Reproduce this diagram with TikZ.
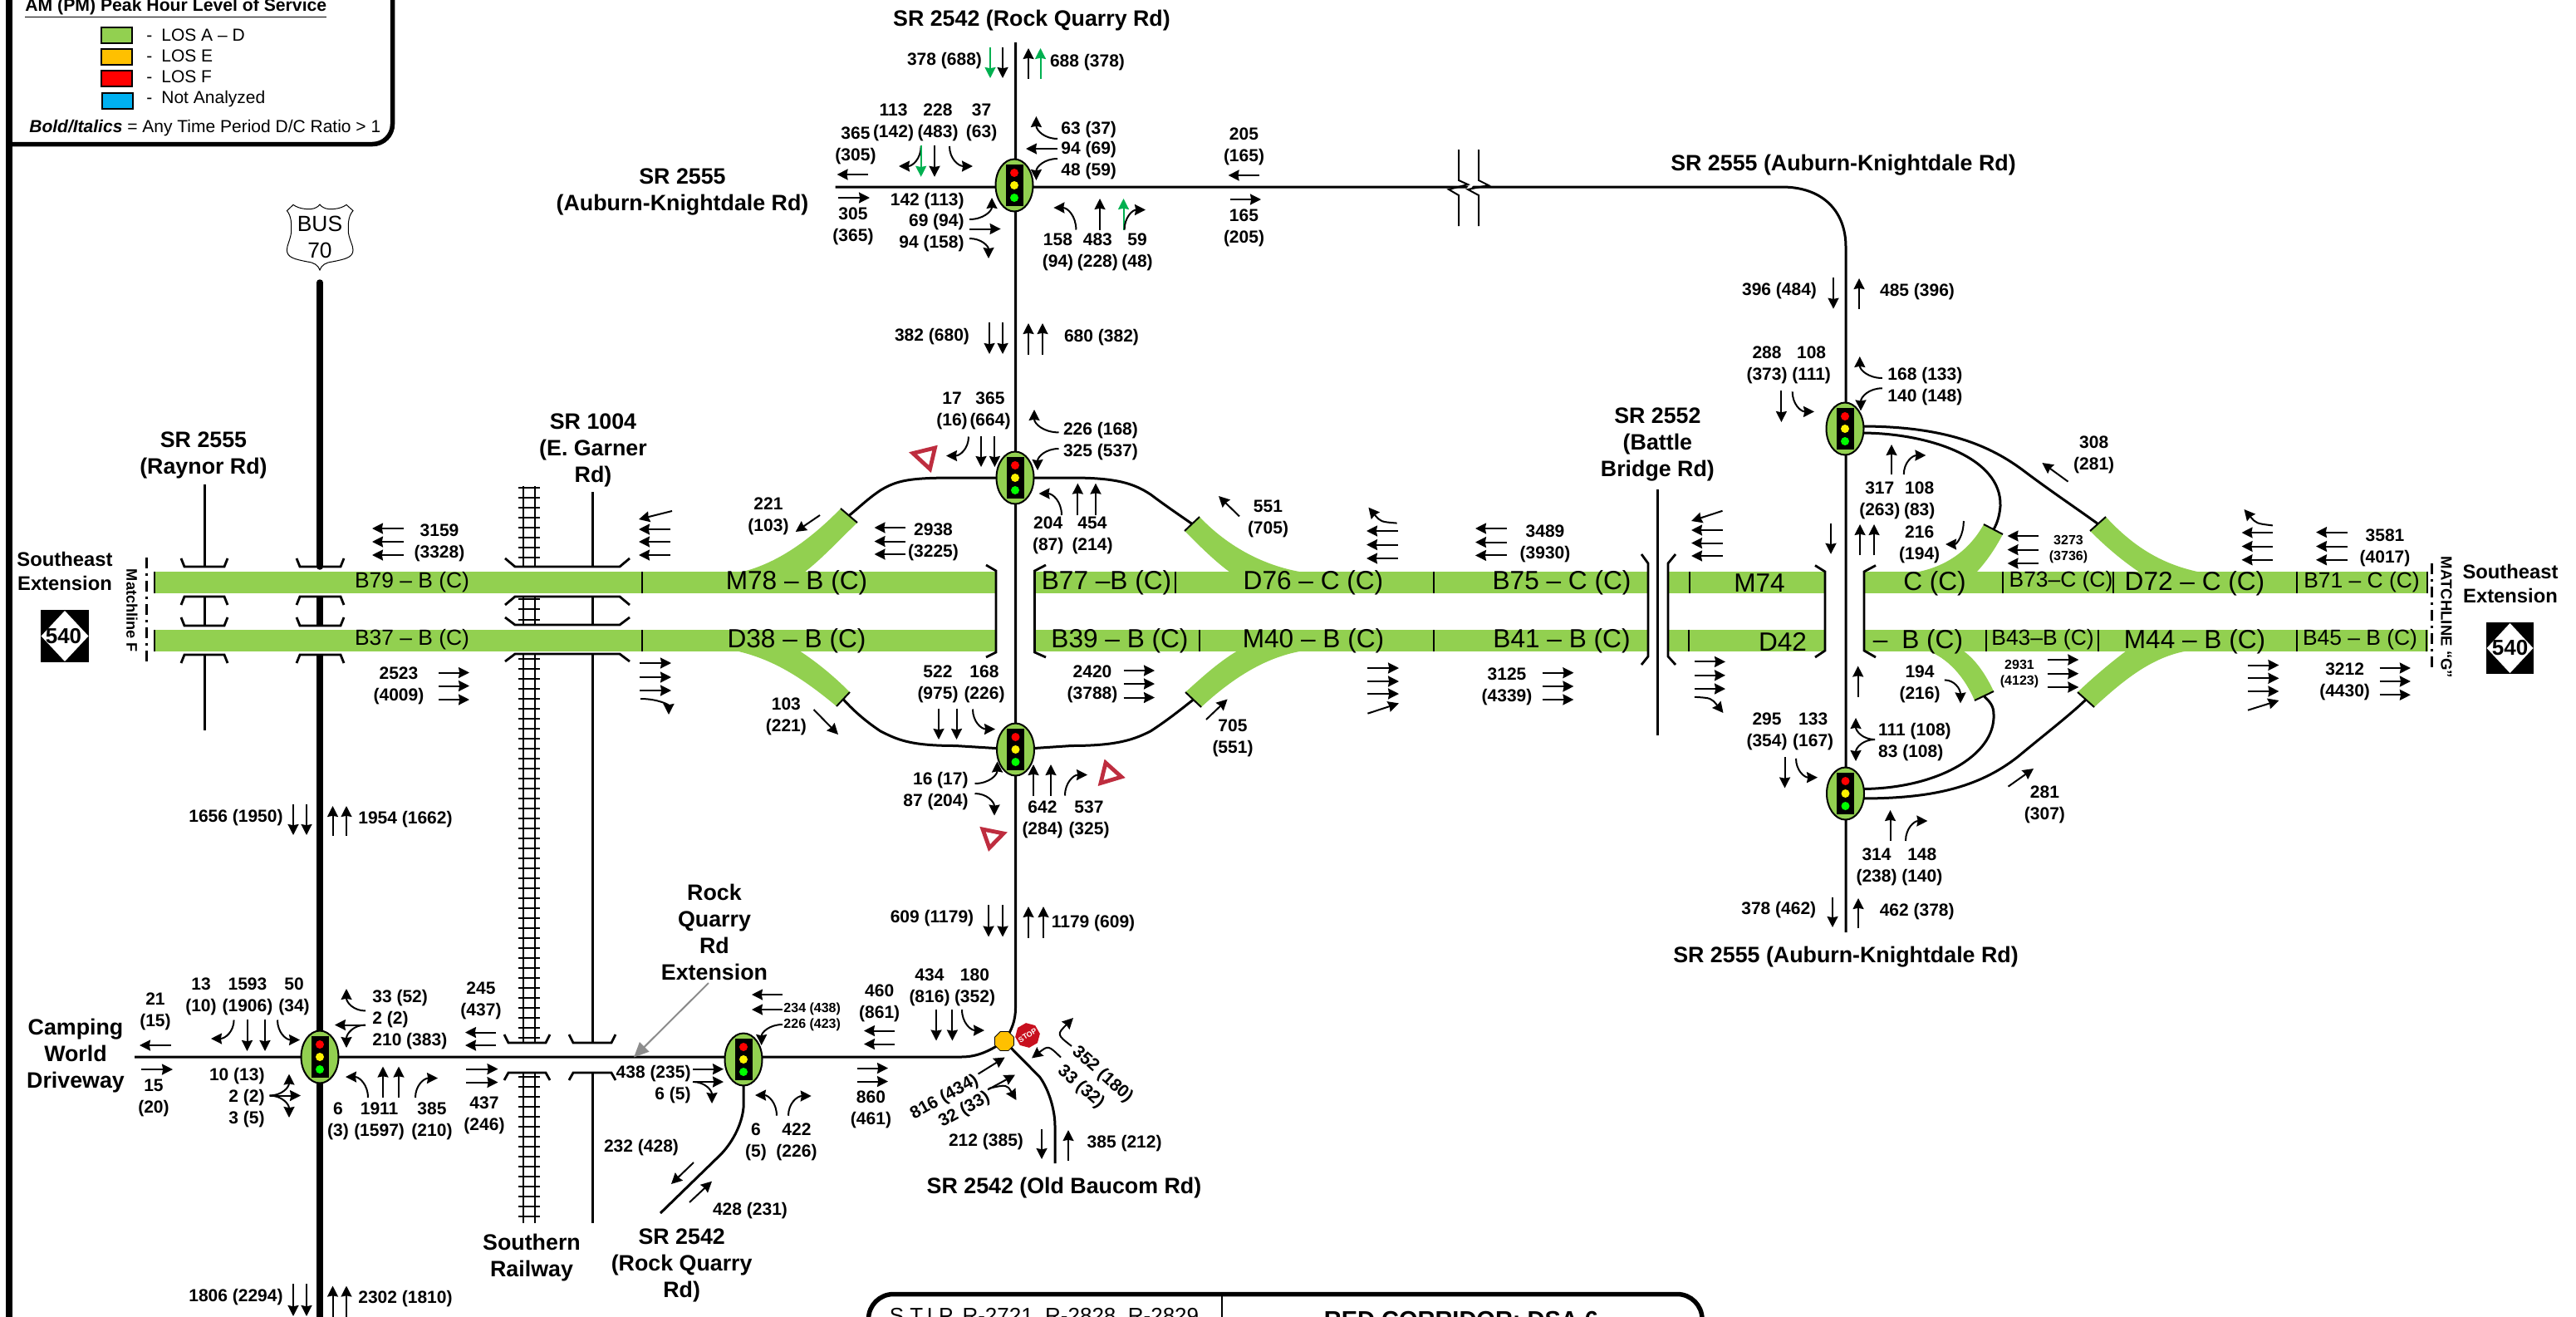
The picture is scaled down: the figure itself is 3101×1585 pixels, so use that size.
\documentclass[tikz,border=0pt]{standalone}
\usepackage{fontspec}
\setmainfont{Liberation Sans}
\usetikzlibrary{arrows.meta,shapes.geometric}
\definecolor{losg}{RGB}{146,208,80}
\definecolor{lose}{RGB}{255,192,0}
\definecolor{losb}{RGB}{0,176,240}
\definecolor{grarrow}{RGB}{0,176,80}
\definecolor{yieldred}{RGB}{190,45,63}
\definecolor{stopred}{RGB}{200,16,30}
\newcounter{lbc}
\tikzset{
  lab/.style={inner sep=0pt,align=center,yshift=-0.4pt,font=\fontsize{10.5}{13}\selectfont\bfseries},
  labs/.style={inner sep=0pt,align=center,yshift=-0.3pt,font=\fontsize{8}{9.5}\selectfont\bfseries},
  big/.style={inner sep=0pt,align=center,yshift=-0.8pt,font=\fontsize{13.4}{16}\selectfont\bfseries},
  bigs/.style={inner sep=0pt,align=center,yshift=-0.5pt,font=\fontsize{11.9}{14.5}\selectfont\bfseries},
  seg/.style={inner sep=0pt,font=\fontsize{13.2}{15}\selectfont},
  segb/.style={inner sep=0pt,font=\fontsize{15.8}{18}\selectfont},
  legt/.style={inner sep=0pt,anchor=west,font=\fontsize{10.5}{13}\selectfont},
  mv/.style={line width=1pt,-{Stealth[length=6.5pt,width=6.5pt,inset=0.6pt]}},
  mvg/.style={mv,color=grarrow},
  road/.style={line width=1.5pt},
  thick road/.style={line width=3.75pt},
  brk/.style={line width=1.4pt},
  rail/.style={line width=0.8pt},
  sigel/.style={ellipse,draw=black,fill=losg,line width=1pt,minimum width=22.5pt,minimum height=31.5pt,inner sep=0pt},
  sighead/.style={rectangle,fill=black,minimum width=10.5pt,minimum height=25pt,inner sep=0pt},
  lamp/.style={circle,inner sep=0pt,minimum size=5pt},
  tick/.style={line width=1pt},
  rampend/.style={line width=1pt},
  swatch/.style={draw=black,line width=0.8pt},
  yieldtri/.style={draw=yieldred,fill=white,line width=2.4pt,line join=miter},
  matchl/.style={line width=1.5pt,dash pattern=on 6.5pt off 3pt on 1.5pt off 3pt},
  frameln/.style={line width=2.75pt},
}
\newcommand\lb[3]{\stepcounter{lbc}\node[lab] (t\thelbc) at (#1,#2) {#3};}
\newcommand\lbl[3]{\stepcounter{lbc}\node[lab,anchor=west] (t\thelbc) at (#1,#2) {#3};}
\newcommand\lbe[3]{\stepcounter{lbc}\node[lab,anchor=east] (t\thelbc) at (#1,#2) {#3};}
\newcommand\lbs[3]{\stepcounter{lbc}\node[labs] (t\thelbc) at (#1,#2) {#3};}
\newcommand\lbr[4]{\stepcounter{lbc}\node[lab,rotate=#3] (t\thelbc) at (#1,#2) {#4};}
\newcommand\bg[3]{\stepcounter{lbc}\node[big] (t\thelbc) at (#1,#2) {#3};}
\newcommand\bgs[3]{\stepcounter{lbc}\node[bigs] (t\thelbc) at (#1,#2) {#3};}
\newcommand\sg[3]{\stepcounter{lbc}\node[seg] (t\thelbc) at (#1,#2) {#3};}
\newcommand\sgb[3]{\stepcounter{lbc}\node[segb] (t\thelbc) at (#1,#2) {#3};}
\newcommand\mv[4]{\draw[mv] (#1,#2) -- (#3,#4);}
\newcommand\mvh[3]{\foreach \q in {#3} {\draw[mv] (#1,\q) -- (#2,\q);}}
\newcommand\mvv[3]{\foreach \q in {#3} {\draw[mv] (\q,#1) -- (\q,#2);}}
\newcommand\vh[4]{\draw[mv] (#1,#2) .. controls (#1,{#2+0.62*(#4-#2)}) and ({#3-0.62*(#3-#1)},#4) .. (#3,#4);}
\newcommand\hv[4]{\draw[mv] (#1,#2) .. controls ({#1+0.62*(#3-#1)},#2) and (#3,{#4-0.62*(#4-#2)}) .. (#3,#4);}
\newcommand\sigl[3]{%
  \node[sigel] (#1) at (#2,#3) {};
  \node[sighead] (#1h) at (#2,#3) {};
  \node[lamp,fill=red] (#1r) at ([yshift=7.5pt]#1) {};
  \node[lamp,fill=yellow] (#1y) at (#1) {};
  \node[lamp,fill=green] (#1g) at ([yshift=-7.5pt]#1) {};
}
\newcommand\obar[5]{\draw[brk] (#1,#4) -- (#1+#5,#3) -- (#2-#5,#3) -- (#2,#4);}
\begin{document}
\begin{tikzpicture}[x=0.5pt,y=-0.5pt,line cap=butt]
\useasboundingbox (0,0) rectangle (3101,1585);
\clip (0,0) rectangle (3101,1585);

% frame
\draw[line width=3.75pt] (11,0) -- (11,1585);
\draw[frameln,rounded corners=12pt] (472.5,-5) -- (472.5,173.5) -- (14,173.5);
\draw[frameln,rounded corners=15pt] (1045.5,1610) -- (1045.5,1557.5) -- (2049,1557.5) -- (2049,1610);
\draw[line width=1.25pt] (1471,1557) -- (1471,1590);
\node[inner sep=0pt,font=\fontsize{13}{15}\selectfont,anchor=base] (stip) at (1257,1592) {S.T.I.P. R-2721, R-2828, R-2829};
\node[inner sep=0pt,font=\fontsize{14.5}{16}\selectfont\bfseries,anchor=base] (rc) at (1759,1598) {RED CORRIDOR: DSA 6};

% legend
\node[inner sep=0pt,anchor=west,font=\fontsize{10.6}{13}\selectfont\bfseries] (legtitle) at (30,10) {\underline{AM (PM) Peak Hour Level of Service}};
\draw[swatch,fill=losg] (122,33) rectangle (159,52);
\draw[swatch,fill=lose] (122,59) rectangle (159,78);
\draw[swatch,fill=red] (122,85) rectangle (159,104);
\draw[swatch,fill=losb] (123,112) rectangle (160,131);
\node[legt] (l1) at (176,42) {-\hspace{5.5pt}LOS A – D};
\node[legt] (l2) at (176,67) {-\hspace{5.5pt}LOS E};
\node[legt] (l3) at (176,92.5) {-\hspace{5.5pt}LOS F};
\node[legt] (l4) at (176,119) {-\hspace{5.5pt}Not Analyzed};
\node[legt] (l5) at (35,154) {\textbf{\textit{Bold/Italics}} = Any Time Period D/C Ratio > 1};

% bands
\foreach \ya/\yb in {688/714,758/784} {
  \fill[losg] (186,\ya) rectangle (1199,\yb);
  \fill[losg] (1246,\ya) rectangle (1984,\yb);
  \fill[losg] (2008,\ya) rectangle (2197,\yb);
  \fill[losg] (2244,\ya) rectangle (2923,\yb);
}
% ramps
\fill[losg] (1012,612) .. controls (970,655) and (930,680) .. (890,689) -- (968,689) .. controls (990,672) and (1010,650) .. (1032,629) -- cycle;
\fill[losg] (1007,850) .. controls (965,815) and (930,793) .. (885,783) -- (962,783) .. controls (985,798) and (1005,815) .. (1023,833) -- cycle;
\fill[losg] (1426,639) .. controls (1445,658) and (1462,675) .. (1481,689) -- (1570,689) .. controls (1525,682) and (1480,660) .. (1444,622) -- cycle;
\fill[losg] (1427,833) .. controls (1445,817) and (1465,798) .. (1490,783) -- (1570,783) .. controls (1525,790) and (1485,815) .. (1446,851) -- cycle;
\fill[losg] (2388,631) .. controls (2372,660) and (2345,682) .. (2305,689) -- (2379,689) .. controls (2392,675) and (2402,660) .. (2411,643) -- cycle;
\fill[losg] (2377,843) .. controls (2365,815) and (2345,792) .. (2320,783) -- (2363,783) .. controls (2380,795) and (2392,815) .. (2400,832) -- cycle;
\fill[losg] (2516,639) .. controls (2535,658) and (2555,675) .. (2576,689) -- (2650,689) .. controls (2605,680) and (2570,660) .. (2535,622) -- cycle;
\fill[losg] (2501,833) .. controls (2520,815) and (2540,798) .. (2560,783) -- (2635,783) .. controls (2590,790) and (2555,820) .. (2521,851) -- cycle;
% ramp ends
\draw[rampend] (1012,612) -- (1032,629);
\draw[rampend] (1007,850) -- (1023,833);
\draw[rampend] (1426,639) -- (1444,622);
\draw[rampend] (1427,833) -- (1446,851);
\draw[rampend] (2388,631) -- (2411,643);
\draw[rampend] (2377,843) -- (2400,832);
\draw[rampend] (2516,639) -- (2535,622);
\draw[rampend] (2501,833) -- (2521,851);
% band ticks
\foreach \x in {186,773,1415,1726,2034,2411,2544,2765,2922} {\draw[tick] (\x,688) -- (\x,714);}
\foreach \x in {186,773,1444,1726,2033,2391,2526,2765,2921} {\draw[tick] (\x,758) -- (\x,784);}

% band labels
\sg{496}{701}{B79 – B (C)}
\sg{496}{770}{B37 – B (C)}
\sgb{959}{701}{M78 – B (C)}
\sgb{959}{771}{D38 – B (C)}
\sgb{1332}{701}{B77 –B (C)}
\sgb{1348}{771}{B39 – B (C)}
\sgb{1581}{701}{D76 – C (C)}
\sgb{1581}{771}{M40 – B (C)}
\sgb{1880}{701}{B75 – C (C)}
\sgb{1880}{771}{B41 – B (C)}
\sgb{2118}{702}{M74}
\sgb{2146}{772}{D42}
\sgb{2329}{702}{C (C)}
\sgb{2309}{772}{–\hspace{4pt} B (C)}
\sg{2481}{700}{B73–C (C)}
\sg{2459}{770}{B43–B (C)}
\sgb{2642}{702}{D72 – C (C)}
\sgb{2642}{772}{M44 – B (C)}
\sg{2843}{701}{B71 – C (C)}
\sg{2841}{770}{B45 – B (C)}

% Raynor
\draw[road] (246,583) -- (246,682);
\draw[road] (246,718) -- (246,753);
\draw[road] (246,788) -- (246,879);
\obar{218}{274}{682}{672}{4}
\obar{218}{274}{718}{728}{4}
\obar{218}{274}{753}{743}{4}
\obar{218}{274}{788}{798}{4}
% BUS 70
\draw[thick road,line cap=round] (385,340) -- (385,682);
\draw[thick road] (385,718) -- (385,753);
\draw[thick road] (385,788) -- (385,1590);
\obar{357}{414}{682}{672}{4}
\obar{357}{414}{718}{728}{4}
\obar{357}{414}{753}{743}{4}
\obar{357}{414}{788}{798}{4}
% rail
\foreach \ya/\yb in {585/682,718/752,787/1255,1291/1472} {
  \draw[rail] (630,\ya) -- (630,\yb);
  \draw[rail] (644,\ya) -- (644,\yb);
}
\foreach \y in {587,599,...,680,721,733,746} {\draw[rail] (624,\y) -- (650,\y);}
\foreach \y in {793,805,...,1250} {\draw[rail] (624,\y) -- (650,\y);}
\foreach \y in {1296,1308,...,1470} {\draw[rail] (624,\y) -- (650,\y);}
% SR 1004
\draw[road] (713,592) -- (713,682);
\draw[road] (713,718) -- (713,752);
\draw[road] (713,787) -- (713,1255);
\draw[road] (713,1291) -- (713,1472);
\obar{608}{758}{682}{672}{12}
\obar{608}{758}{718}{728}{12}
\obar{608}{758}{752}{743}{12}
\obar{608}{758}{787}{796}{12}
\obar{607}{662}{1255}{1245}{5}
\obar{607}{662}{1291}{1300}{5}
\obar{685}{741}{1255}{1245}{5}
\obar{685}{741}{1291}{1300}{5}
% interchange brackets Rock Quarry
\draw[brk] (1187,680) -- (1199,687) -- (1199,785) -- (1187,791);
\draw[brk] (1259,680) -- (1245.5,687) -- (1245.5,785) -- (1259,791);
% Battle Bridge
\draw[road] (1995,589) -- (1995,885);
\draw[brk] (1976,667) -- (1984,678) -- (1984,790) -- (1976,800);
\draw[brk] (2017,667) -- (2008,678) -- (2008,790) -- (2017,800);
% interchange brackets Auburn
\draw[brk] (2185,680.5) -- (2197,688) -- (2197,783) -- (2185,791);
\draw[brk] (2258,680.5) -- (2244,688) -- (2244,783) -- (2258,791);

% signal positions
\coordinate (c1) at (385,1272);
\coordinate (c2) at (1221,223);
\coordinate (c3) at (1222,575);
\coordinate (c4) at (1222.5,902);
\coordinate (c5) at (895,1275);
\coordinate (c6) at (2221,516);
\coordinate (c7) at (2221.5,955);
\coordinate (oct) at (1209,1253);

% roads
\draw[road] (162,1272) -- (1157,1272) .. controls (1175,1272) and (1190,1266) .. (oct);
\draw[road] (1222.5,51) -- (1222.5,1213) .. controls (1222.5,1228) and (1218,1240) .. (oct);
\draw[road] (oct) -- (1251.5,1296) .. controls (1262,1310) and (1270,1335) .. (1270,1355) -- (1270,1400);
\draw[road] (1005.6,225) -- (2145,225) .. controls (2195,225) and (2222,255) .. (2222,297) -- (2222,1122);
\draw[road] (c5) -- (895,1333) .. controls (893,1355) and (880,1377) .. (867,1390) -- (795,1460);
% break
\fill[white] (1763,230) -- (1768,230) -- (1776,220) -- (1771,220) -- cycle;
\draw[line width=1pt] (1756,180) -- (1756,217) -- (1767,222) -- (1744,228) -- (1756,235) -- (1756,272);
\draw[line width=1pt] (1780,180) -- (1780,217) -- (1792,223) -- (1767,228) -- (1780,235) -- (1780,272);
% interchange connectors
\draw[road] (c3) -- (1150,575) .. controls (1095,575) and (1080,578) .. (1060,590) .. controls (1045,600) and (1035,610) .. (1022,620.5);
\draw[road] (c3) -- (1290,575) .. controls (1345,575) and (1365,582) .. (1385,595) .. controls (1405,610) and (1420,620) .. (1435,630.5);
\draw[road] (c4) -- (1150,897.5) .. controls (1095,897.5) and (1080,890) .. (1060,880) .. controls (1045,870) and (1030,858) .. (1015,841.5);
\draw[road] (c4) -- (1290,897.5) .. controls (1345,897.5) and (1365,890) .. (1385,880) .. controls (1405,867) and (1420,855) .. (1436.5,842);
\draw[road] (2240,513) .. controls (2340,513) and (2395,535) .. (2438,568) .. controls (2470,592) and (2500,612) .. (2525.5,630.5);
\draw[road] (2240,521) .. controls (2320,521) and (2410,550) .. (2408,609) .. controls (2407,620) and (2405,628) .. (2400,637);
\draw[road] (2240,949.5) .. controls (2330,949.5) and (2402,910) .. (2400,860) .. controls (2400,850) and (2396,845) .. (2388.5,838);
\draw[road] (2240,961) .. controls (2320,961) and (2380,950) .. (2430,910) .. controls (2460,885) and (2490,862) .. (2511,842);

% signals
\sigl{s1}{385}{1272}
\sigl{s2}{1221}{223}
\sigl{s3}{1222}{575}
\sigl{s4}{1222.5}{902}
\sigl{s5}{895}{1275}
\sigl{s6}{2221}{516}
\sigl{s7}{2221.5}{955}
\node[regular polygon,regular polygon sides=8,draw=black,line width=0.4pt,fill=lose,minimum size=12.5pt,inner sep=0pt] (octn) at (oct) {};
\node[regular polygon,regular polygon sides=8,shape border rotate=30,fill=stopred,minimum size=15pt,inner sep=0pt] (stopn) at (1237,1246) {};
\node[inner sep=0pt,rotate=32,text=white,font=\fontsize{4.5}{5}\selectfont\bfseries] (stopt) at (1237,1246) {STOP};

% yield signs
\draw[yieldtri] (1099,545.5) -- (1125.5,539) -- (1119.5,564.5) -- cycle;
\draw[yieldtri] (1331,918) -- (1350,935) -- (1325,942.5) -- cycle;
\draw[yieldtri] (1183,998) -- (1208,1003) -- (1191,1020.5) -- cycle;

% shields
\draw[line width=0.5pt,fill=white] (345.4,253.6) -- (353,246.4) .. controls (360,252) and (375,253) .. (380,250) .. controls (382,249) and (384,248) .. (385,246) .. controls (386,248) and (388,249) .. (390,250) .. controls (395,253) and (410,252) .. (417,246.4) -- (425,253.6) .. controls (419,260) and (419,270) .. (419.4,280) .. controls (421,290) and (425,295) .. (425,301) .. controls (425,310) and (415,312) .. (400,315) .. controls (392,316) and (387,319) .. (385,325) .. controls (383,319) and (378,316) .. (370,315) .. controls (355,312) and (345.4,310) .. (345.4,301) .. controls (345.4,295) and (349,290) .. (350.6,280) .. controls (351,270) and (351,260) .. (345.4,253.6) -- cycle;
\node[inner sep=0pt,align=center,font=\fontsize{13.2}{16}\selectfont] (bus) at (385,285) {BUS\\70};
\fill[black] (49,734) rectangle (107,797);
\fill[white] (78,735) -- (106.5,765.5) -- (78,796) -- (49.5,765.5) -- cycle;
\node[inner sep=0pt,font=\fontsize{13}{15}\selectfont\bfseries] (n540a) at (76.5,766) {540};
\fill[black] (2993,749) rectangle (3050,811);
\fill[white] (3021.5,750) -- (3049.5,780) -- (3021.5,810) -- (2993.5,780) -- cycle;
\node[inner sep=0pt,font=\fontsize{13}{15}\selectfont\bfseries] (n540b) at (3021.5,780) {540};

% matchlines
\draw[matchl] (176.5,671) -- (176.5,798);
\draw[matchl] (2927,678) -- (2927,806);
\node[inner sep=0pt,rotate=-90,font=\fontsize{9.1}{11}\selectfont\bfseries] (mf) at (159,735) {Matchline F};
\node[inner sep=0pt,rotate=-90,font=\fontsize{9.3}{11}\selectfont\bfseries] (mg) at (2945,743) {MATCHLINE “G”};

% grey arrow
\draw[line width=1pt,draw=black!45,-{Stealth[length=9pt,width=8pt,inset=0pt]}] (853,1183) -- (763,1272.5);

% road names
\bgs{78}{686.5}{Southeast\\Extension}
\bgs{3022}{701.5}{Southeast\\Extension}
\bg{245}{546}{SR 2555\\(Raynor Rd)}
\bg{714}{540}{SR 1004\\(E. Garner\\Rd)}
\bg{91}{1268.5}{Camping\\World\\Driveway}
\bg{640}{1512}{Southern\\Railway}
\bg{860}{1120.5}{Rock\\Quarry\\Rd\\Extension}
\bg{820.7}{1521.7}{SR 2542\\(Rock Quarry\\Rd)}
\bg{1242}{23}{SR 2542 (Rock Quarry Rd)}
\bg{821.5}{229}{SR 2555\\(Auburn-Knightdale Rd)}
\bg{2219}{197}{SR 2555 (Auburn-Knightdale Rd)}
\bg{2222}{1150}{SR 2555 (Auburn-Knightdale Rd)}
\bg{1995.4}{533.7}{SR 2552\\(Battle\\Bridge Rd)}
\bg{1281}{1427.5}{SR 2542 (Old Baucom Rd)}

% left part
\lb{529}{653}{3159\\(3328)}
\mvh{486}{448}{636,652,668}
\mv{809}{615}{769}{625}
\mvh{807}{769}{637,652,668}
\lb{480}{825}{2523\\(4009)}
\mvh{528}{565}{809.5,825.5,842}
\mvh{770}{808}{798,815,831}
\hv{771}{841}{805}{860}
\lb{284}{983}{1656 (1950)}
\mvv{968}{1005}{353,369}
\mvv{1006}{970}{400.5,417}
\lb{488}{985}{1954 (1662)}
\lb{284}{1560}{1806 (2294)}
\mvv{1545}{1584}{353,369}
\mvv{1585}{1547.5}{400.5,417}
\lb{488}{1562.5}{2302 (1810)}
% s1
\lb{187}{1217}{21\\(15)}
\mv{206}{1258}{168}{1258}
\mv{170}{1287}{208}{1287}
\lb{185}{1321}{15\\(20)}
\lb{242}{1198.5}{13\\(10)}
\lb{298}{1198.5}{1593\\(1906)}
\lb{354}{1198.5}{50\\(34)}
\vh{281.6}{1227.5}{254}{1250}
\mvv{1226.5}{1265}{297.5,319}
\vh{334}{1227.5}{361}{1251.5}
\lbe{319}{1294.5}{10 (13)}
\lbe{319}{1320}{2 (2)}
\lbe{319}{1346}{3 (5)}
\mv{324.5}{1318.5}{362}{1318.5}
\hv{324.5}{1318.5}{348}{1292.5}
\hv{324.5}{1318.5}{348}{1345}
\lbl{448}{1200.5}{33 (52)}
\lbl{448}{1226.5}{2 (2)}
\lbl{448}{1252.5}{210 (383)}
\hv{440}{1216.5}{417}{1190}
\mv{440}{1233.5}{403}{1233.5}
\hv{440}{1233.5}{417}{1261}
\lb{407}{1348.5}{6\\(3)}
\lb{456.6}{1348.5}{1911\\(1597)}
\lb{520}{1348.5}{385\\(210)}
\vh{443}{1321}{416}{1296}
\mvv{1321}{1283.5}{461,480}
\vh{500}{1321}{527}{1297.5}
\lb{579}{1203.5}{245\\(437)}
\mvh{597}{560}{1242.5,1258}
\mvh{561}{599.5}{1286.5,1302.5}
\lb{583}{1341.5}{437\\(246)}
% s5
\lb{786.6}{1291.6}{438 (235)}
\lb{810}{1317.6}{6 (5)}
\mvh{834}{871}{1286.7,1302}
\hv{834}{1302}{857}{1328}
\lb{772}{1380}{232 (428)}
\mv{835}{1399}{808}{1425}
\mv{830}{1447}{857}{1421.7}
\lb{903}{1456.7}{428 (231)}
\lb{910}{1374}{6\\(5)}
\lb{959}{1374}{422\\(226)}
\vh{935}{1342.7}{909}{1318}
\vh{949}{1342.7}{976.7}{1319}
\lbs{977.7}{1214}{234 (438)}
\lbs{977.7}{1233}{226 (423)}
\mvh{942}{905}{1197,1215}
\hv{942}{1233}{916.7}{1258}
% between s5 and octagon
\lb{1058.7}{1206.5}{460\\(861)}
\mvh{1077}{1040}{1240.5,1256.5}
\mvh{1032}{1069}{1285.5,1301.5}
\lb{1048.5}{1335}{860\\(461)}
\lb{1119}{1188}{434\\(816)}
\lb{1173.5}{1188}{180\\(352)}
\mvv{1215}{1252.5}{1127,1146.4}
\vh{1158}{1215}{1185}{1240}
\lb{1122}{1104}{609 (1179)}
\mvv{1089}{1127.5}{1190,1207}
\mvv{1128.5}{1091}{1238,1256}
\lb{1316}{1110.5}{1179 (609)}
% s4
\lbe{1166}{938}{16 (17)}
\lbe{1166}{964}{87 (204)}
\hv{1173.5}{943}{1200.5}{916.5}
\hv{1173.5}{955}{1197}{981.5}
\mvv{957.5}{920}{1244,1265}
\vh{1282}{957.5}{1309}{932.5}
\lb{1255}{986}{642\\(284)}
\lb{1311}{986}{537\\(325)}
\lb{1129}{822.5}{522\\(975)}
\lb{1185}{822.5}{168\\(226)}
\mvv{852.5}{890}{1130,1151.5}
\vh{1171}{853.5}{1198}{877.5}
\lb{946.4}{862}{103\\(221)}
\mv{979.6}{854}{1009}{884}
\lb{1315}{822.5}{2420\\(3788)}
\mvh{1352.5}{1390}{807,823,839.5}
\lb{1484}{888}{705\\(551)}
\mv{1452}{866}{1477.6}{841.5}
% octagon legs
\lbr{1137}{1320}{29}{816 (434)}
\lbr{1161}{1335}{29}{32 (33)}
\mv{1177.5}{1292.5}{1209.7}{1272.5}
\mv{1189}{1311.5}{1222}{1293.5}
\draw[mv] (1190,1310) .. controls (1212,1305) .. (1223.5,1324);
\lbr{1301}{1307.5}{-41}{33 (32)}
\lbr{1327}{1292.5}{-42}{352 (180)}
\draw[mv] (1277,1272.5) .. controls (1262,1258) .. (1242,1273.5);
\draw[mv] (1290,1259) .. controls (1272,1245) .. (1292,1225);
\lb{1187}{1373.5}{212 (385)}
\mv{1254}{1358.5}{1254}{1395}
\mv{1286}{1396.5}{1286}{1360}
\lb{1353.6}{1375}{385 (212)}
% s2
\lb{1137}{72}{378 (688)}
\draw[mvg] (1192,57) -- (1192,94);
\mv{1207}{57}{1207}{94}
\mv{1238}{95}{1238}{58}
\draw[mvg] (1252.5,95) -- (1252.5,58);
\lb{1309}{74}{688 (378)}
\lb{1030}{175}{365\\(305)}
\lb{1075.5}{147}{113\\(142)}
\lb{1129}{147}{228\\(483)}
\lb{1181.6}{147}{37\\(63)}
\mv{1045}{210}{1007.6}{210}
\mv{1009}{238}{1047}{238}
\lb{1027}{272}{305\\(365)}
\vh{1108.7}{176}{1082}{200}
\draw[mvg] (1108.7,175) -- (1108.7,212.8);
\mv{1125}{175}{1125}{212.8}
\vh{1143}{176}{1171}{200}
\lbe{1161}{241}{142 (113)}
\lbe{1161}{266}{69 (94)}
\lbe{1161}{292}{94 (158)}
\hv{1167}{264}{1194}{238}
\mv{1167}{275.5}{1204.6}{275.5}
\hv{1167}{287}{1190}{311}
\lbl{1277}{155}{63 (37)}
\lbl{1277}{179.6}{94 (69)}
\lbl{1277}{205.6}{48 (59)}
\hv{1273}{167}{1247.4}{140}
\mv{1273}{179}{1235}{179}
\hv{1273}{191}{1247.4}{217}
\lb{1273.5}{303}{158\\(94)}
\lb{1321.4}{303}{483\\(228)}
\lb{1369}{303}{59\\(48)}
\vh{1295.4}{276.5}{1268.4}{250}
\mv{1324}{276.5}{1324}{239}
\draw[mvg] (1352.5,276.5) -- (1352.5,239);
\vh{1353.6}{276.5}{1379}{252.5}
\lb{1497.5}{176}{205\\(165)}
\lb{1497.5}{274}{165\\(205)}
\mv{1516}{211}{1478.6}{211}
\mv{1481}{240}{1518}{240}
\lb{1122}{404}{382 (680)}
\mvv{388}{426}{1191,1207}
\mvv{427}{389}{1238,1255}
\lb{1326}{405.6}{680 (382)}
% s3
\lb{1146}{494}{17\\(16)}
\lb{1192}{494}{365\\(664)}
\vh{1166}{525.5}{1139}{548.5}
\mvv{524.5}{562}{1181,1197.4}
\lbl{1279.6}{517}{226 (168)}
\lbl{1279.6}{543}{325 (537)}
\hv{1274.5}{520.4}{1245}{493}
\hv{1274.5}{540}{1249}{566}
\lb{925}{621}{221\\(103)}
\mv{987}{620}{957.7}{640}
\lb{1123.5}{652}{2938\\(3225)}
\mvh{1090}{1052.5}{635,651.5,667}
\lb{1261.7}{644}{204\\(87)}
\lb{1315}{644}{454\\(214)}
\vh{1278}{620}{1250.5}{594}
\mvv{620}{581.6}{1297.4,1319}
\lb{1526.5}{624}{551\\(705)}
\mv{1492}{621.4}{1467}{597}
% mainline groups
\draw[mv] (1681.6,629.6) .. controls (1662,628) .. (1647.4,610.7);
\mvh{1682.6}{1645}{639,655.6,672}
\lb{1860}{653.6}{3489\\(3930)}
\mvh{1814}{1776}{636,652.6,668.4}
\mv{2073.5}{614.8}{2036}{627}
\mvh{2073.5}{2036}{638,653.6,669}
\mvh{1646.4}{1684}{804,820,835}
\mv{1646.4}{858.7}{1684}{846.4}
\lb{1814}{825.5}{3125\\(4339)}
\mvh{1856.6}{1894.4}{809.7,826,842}
\mvh{2039.8}{2077}{796.4,812.8,829}
\draw[mv] (2039.8,838.8) .. controls (2060,840) .. (2074.5,858);
% s6
\lb{2142}{349}{396 (484)}
\mv{2207}{334}{2207}{371.7}
\mv{2238}{372}{2238}{335}
\lb{2308}{350}{485 (396)}
\lb{2127}{439}{288\\(373)}
\lb{2180.6}{439}{108\\(111)}
\mv{2144.4}{470}{2144.4}{508}
\vh{2157.7}{471.4}{2184}{495.4}
\lbl{2272}{451.5}{168 (133)}
\lbl{2272}{477.5}{140 (148)}
\hv{2265.8}{455}{2238.8}{429}
\hv{2265.8}{467.3}{2240}{494.4}
\lb{2262.8}{602}{317\\(263)}
\lb{2310.7}{602}{108\\(83)}
\mv{2277}{571}{2277}{535}
\vh{2291.8}{571}{2318.4}{548}
\mv{2204}{629.6}{2204}{666.8}
\mvv{668.4}{631}{2239,2256}
\lb{2310.7}{655}{216\\(194)}
\vh{2363.8}{627}{2342}{655}
\lbs{2490}{660.5}{3273\\(3736)}
\mvh{2453.8}{2416.5}{645,661.6,678}
\draw[mv] (2735.8,632.4) .. controls (2716,630) .. (2701.5,613);
\mvh{2735.8}{2698.5}{641,657.5,673.8}
\lb{2871}{658.3}{3581\\(4017)}
\mvh{2826}{2788}{640.6,657.5,673.8}
\lb{2520.7}{546.6}{308\\(281)}
\mv{2489.5}{579.6}{2458.4}{557}
% s7
\mv{2236.7}{838.8}{2236.7}{801.5}
\lb{2311}{822.6}{194\\(216)}
\hv{2340.8}{818.4}{2360}{846.4}
\lbs{2431}{810}{2931\\(4123)}
\mvh{2464.5}{2502.3}{794,810.7,827}
\mvh{2706}{2743.4}{800.5,816.3,832}
\mv{2706}{854.7}{2743.4}{843}
\lb{2822.6}{820}{3212\\(4430)}
\mvh{2864.5}{2901.8}{804,820,836.3}
\lb{2461.4}{968}{281\\(307)}
\mv{2417.5}{946.6}{2448}{925}
\lbl{2260.7}{879}{111 (108)}
\lbl{2260.7}{905}{83 (108)}
\hv{2257}{890}{2234}{864}
\hv{2257}{890}{2234}{916}
\lb{2127}{880}{295\\(354)}
\lb{2182.7}{880}{133\\(167)}
\mv{2148.5}{911}{2148.5}{948.5}
\vh{2162}{912.8}{2188}{935.7}
\lb{2259}{1043}{314\\(238)}
\lb{2313.8}{1043}{148\\(140)}
\mv{2275.5}{1012}{2275.5}{975}
\vh{2294}{1012}{2320.4}{988}
\lb{2141.3}{1094}{378 (462)}
\mv{2206}{1079.6}{2206}{1116}
\mv{2237}{1117}{2237}{1081}
\lb{2307.7}{1096}{462 (378)}
\end{tikzpicture}
\end{document}
